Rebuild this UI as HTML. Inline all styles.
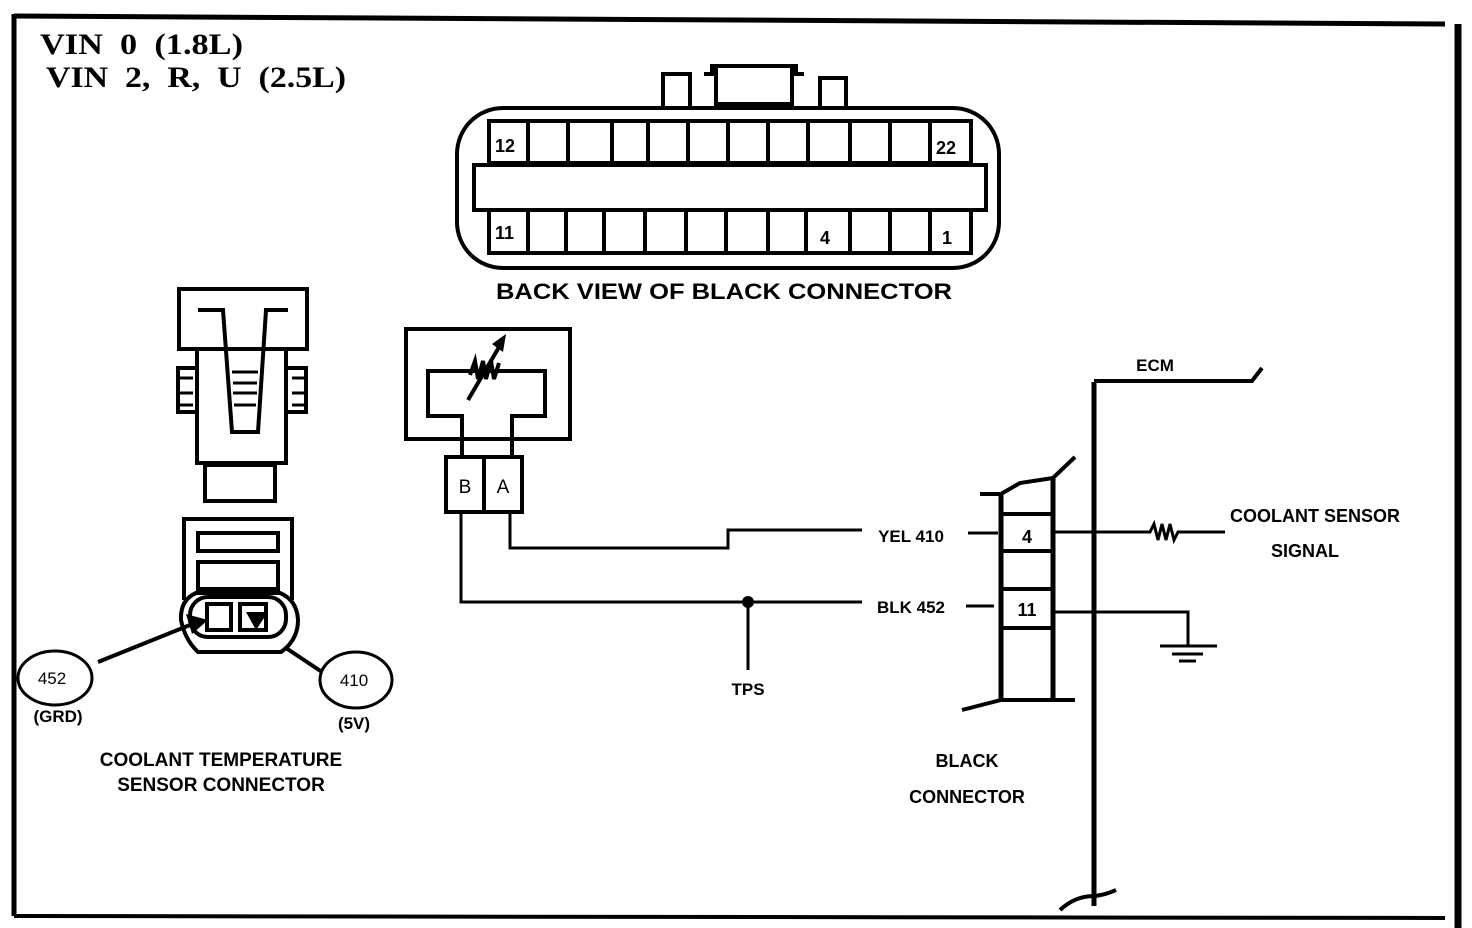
<!DOCTYPE html>
<html><head><meta charset="utf-8"><style>
html,body{margin:0;padding:0;background:#fff;}
svg{display:block}
.b{font-family:"Liberation Sans",sans-serif;font-weight:bold;fill:#000}
.s{font-family:"Liberation Serif",serif;fill:#000}
</style></head><body>
<svg width="1472" height="928" viewBox="0 0 1472 928" xmlns="http://www.w3.org/2000/svg">
<g fill="none" stroke="#000" stroke-width="4">
<path d="M14 16 L1445 24" stroke-width="5"/>
<path d="M14 14 L14 916" stroke-width="5"/>
<path d="M14 916 L1445 918" stroke-width="4"/>
<path d="M1458 24 L1458 928" stroke-width="7"/>
<rect x="457" y="108" width="542" height="160" rx="46"/>
<path d="M663 106 V74 H690 V106"/>
<path d="M820 106 V78 H846 V106"/>
<path d="M704 74 H712 V66 H796 V74 H804 M716 68 V104 H792 V68"/>
<rect x="489" y="121" width="482" height="42"/>
<rect x="474" y="165" width="512" height="45"/>
<rect x="489" y="210" width="482" height="43"/>
<g stroke-width="4">
<path d="M528 121V163 M568 121V163 M612 121V163 M648 121V163 M688 121V163 M728 121V163 M768 121V163 M808 121V163 M850 121V163 M890 121V163 M930 121V163"/>
<path d="M528 210V253 M566 210V253 M604 210V253 M645 210V253 M686 210V253 M726 210V253 M768 210V253 M806 210V253 M850 210V253 M890 210V253 M930 210V253"/>
</g>
<rect x="179" y="289" width="128" height="60"/>
<path d="M198 310 H223 L232 432 H258 L266 310 H288"/>
<path d="M197 349 V463 H286 V349"/>
<rect x="205" y="465" width="70" height="36"/>
<path d="M197 368 H178 V412 H197 M286 368 H306 V412 H286" />
<path d="M180 378 H193 M180 393 H193 M180 405 H193 M292 378 H304 M292 393 H304 M292 405 H304" stroke-width="3"/>
<path d="M232 372 H258 M233 383 H257 M233 393 H257 M234 405 H256" stroke-width="3"/>
<path d="M184 600 V519 H292 V600"/>
<rect x="198" y="533" width="80" height="18"/>
<rect x="198" y="562" width="80" height="27"/>
<path d="M196 593 Q180 600 181 620 Q185 640 198 652 H281 Q298 640 298 620 Q297 600 280 593 Z"/>
<rect x="190" y="597" width="96" height="40" rx="18"/>
<rect x="207" y="604" width="24" height="26"/>
<rect x="240" y="604" width="26" height="26"/>
<path d="M98 662 L190 625"/>
<path d="M286 648 L322 672"/>
<ellipse cx="55" cy="678" rx="37" ry="27" stroke-width="3"/>
<ellipse cx="356" cy="680" rx="36" ry="28" stroke-width="3"/>
<rect x="406" y="329" width="164" height="110"/>
<path d="M462 456 V416 H428 V371 H545 V416 H512 V456"/>
<path d="M468 400 L502 342" stroke-width="4"/>
<path d="M470 375 l5 -14 l3 18 l5 -18 l3 18 l5 -18 l3 18 l5 -16" stroke-width="4"/>
<rect x="446" y="457" width="38" height="55"/>
<rect x="484" y="457" width="38" height="55"/>
<path d="M510 512 V548 H728 V530 H862" stroke-width="3"/>
<path d="M461 512 V602 H862" stroke-width="3"/>
<path d="M748 602 V670" stroke-width="3"/>
<path d="M1001 494 V700 M1053 478 V700" stroke-width="5"/>
<path d="M980 494 H1001 L1020 483 L1053 478 L1075 457" stroke-width="4"/>
<path d="M962 710 L1001 700 H1075" stroke-width="4"/>
<path d="M1001 514 H1053 M1001 551 H1053 M1001 589 H1053 M1001 628 H1053" stroke-width="4"/>
<path d="M968 533 H998 M966 606 H994" stroke-width="3"/>
<path d="M1094 382 V906" stroke-width="5"/>
<path d="M1094 381 H1252 L1262 368" stroke-width="4"/>
<path d="M1060 910 Q1075 896 1094 896 Q1105 895 1116 890" stroke-width="4"/>
<path d="M1053 532 H1150 L1154 524 L1158 540 L1162 524 L1166 540 L1170 524 L1174 540 L1178 532 H1225" stroke-width="3"/>
<path d="M1053 612 H1188 V645" stroke-width="3"/>
<path d="M1160 646 H1217 M1172 654 H1203 M1179 661 H1196" stroke-width="3"/>
</g>
<circle cx="748" cy="602" r="6" fill="#000"/>
<path d="M246 612 L268 612 L256 630 Z" fill="#000"/>
<path d="M186 614 L208 620 L192 634 Z" fill="#000"/>
<path d="M492 344 L506 334 L503 352 Z" fill="#000"/>
<text class="s" x="40" y="54" font-size="30" font-weight="bold" textLength="203" lengthAdjust="spacingAndGlyphs">VIN&#160; 0&#160; (1.8L)</text>
<text class="s" x="46" y="87" font-size="30" font-weight="bold" textLength="300" lengthAdjust="spacingAndGlyphs">VIN&#160; 2,&#160; R,&#160; U&#160; (2.5L)</text>
<g class="b">
<text x="495" y="152" font-size="18">12</text>
<text x="936" y="154" font-size="18">22</text>
<text x="495" y="239" font-size="18">11</text>
<text x="820" y="244" font-size="18">4</text>
<text x="942" y="244" font-size="18">1</text>
<text x="724" y="299" font-size="22" text-anchor="middle" textLength="456" lengthAdjust="spacingAndGlyphs">BACK VIEW OF BLACK CONNECTOR</text>
<text x="465" y="493" font-size="19" text-anchor="middle" font-weight="normal">B</text>
<text x="503" y="493" font-size="19" text-anchor="middle" font-weight="normal">A</text>
<text x="911" y="542" font-size="17" text-anchor="middle">YEL 410</text>
<text x="911" y="613" font-size="17" text-anchor="middle">BLK 452</text>
<text x="748" y="695" font-size="17" text-anchor="middle">TPS</text>
<text x="1027" y="543" font-size="18" text-anchor="middle">4</text>
<text x="1027" y="616" font-size="18" text-anchor="middle">11</text>
<text x="1155" y="371" font-size="17" text-anchor="middle">ECM</text>
<text x="1315" y="522" font-size="18" text-anchor="middle">COOLANT SENSOR</text>
<text x="1305" y="557" font-size="18" text-anchor="middle">SIGNAL</text>
<text x="967" y="767" font-size="18" text-anchor="middle">BLACK</text>
<text x="967" y="803" font-size="18" text-anchor="middle">CONNECTOR</text>
<text x="52" y="684" font-size="17" text-anchor="middle" font-weight="normal">452</text>
<text x="354" y="686" font-size="17" text-anchor="middle" font-weight="normal">410</text>
<text x="58" y="722" font-size="17" text-anchor="middle">(GRD)</text>
<text x="354" y="729" font-size="17" text-anchor="middle">(5V)</text>
<text x="221" y="766" font-size="19" text-anchor="middle">COOLANT TEMPERATURE</text>
<text x="221" y="791" font-size="19" text-anchor="middle">SENSOR CONNECTOR</text>
</g>
</svg>
</body></html>
